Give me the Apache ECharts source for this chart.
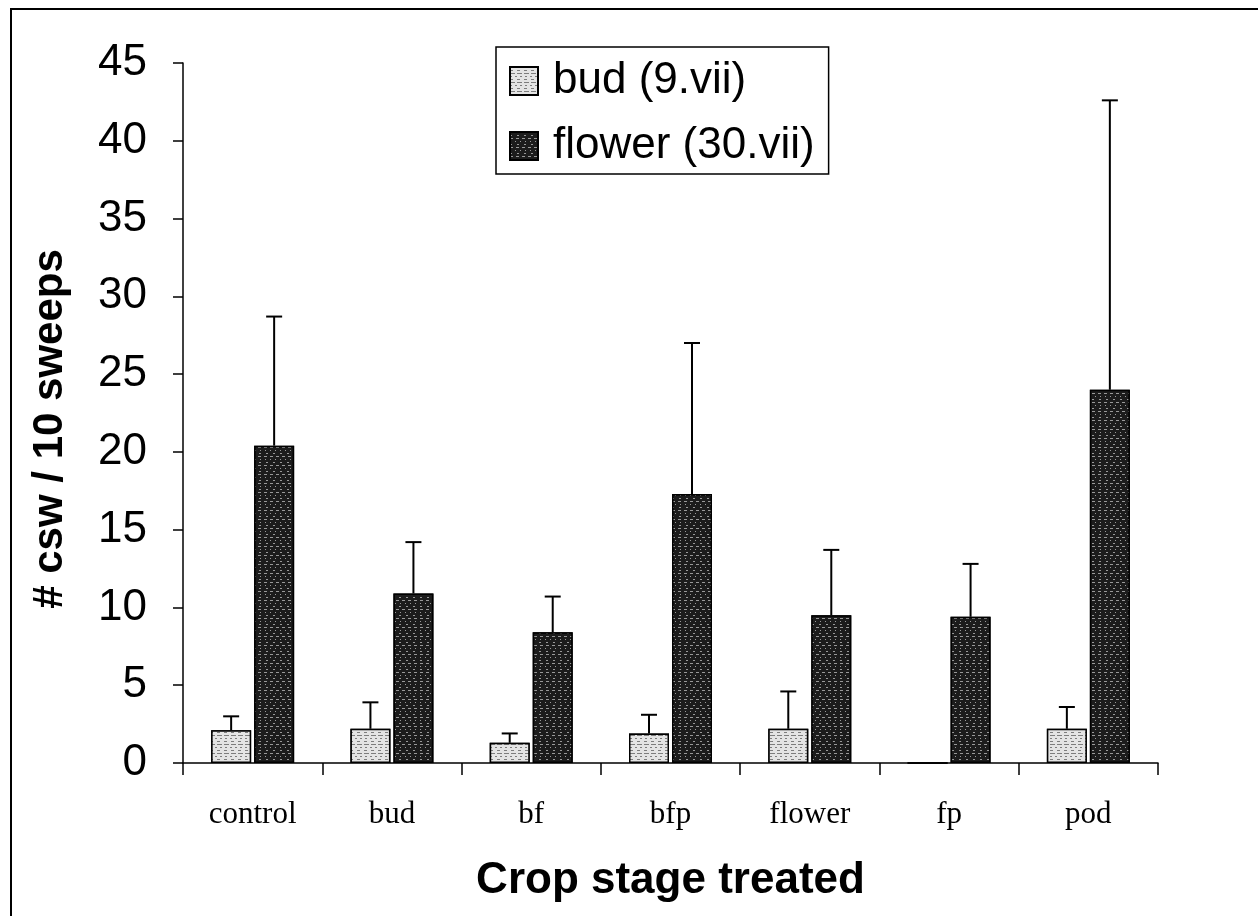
<!DOCTYPE html>
<html>
<head>
<meta charset="utf-8">
<script src="https://cdn.jsdelivr.net/npm/echarts@6/dist/echarts.min.js"></script>
<style>
html,body{margin:0;padding:0;background:#fff;}
#chart{width:1258px;height:916px;}
</style>
</head>
<body>
<div id="chart"></div>
<script>
const categories = ['control', 'bud', 'bf', 'bfp', 'flower', 'fp', 'pod'];
const budValues = [2.1, 2.2, 1.3, 1.9, 2.2, 0, 2.2];
const budErrors = [0.9, 1.7, 0.6, 1.2, 2.4, 0, 1.4];
const flowerValues = [20.4, 10.9, 8.4, 17.3, 9.5, 9.4, 24.0];
const flowerErrors = [8.3, 3.3, 2.3, 9.7, 4.2, 3.4, 18.6];
const seriesNames = ['bud (9.vii)', 'flower (30.vii)'];
const yTicks = [0, 5, 10, 15, 20, 25, 30, 35, 40, 45];

const BAR_W = 40;
const BAR_GAP_PX = 3;

function errorSeries(values, errors, side) {
  const data = values.map((v, i) => [i, v, v + errors[i], errors[i]]);
  return {
    type: 'custom',
    silent: true,
    z: 1,
    data: data,
    encode: { x: 0, y: [1, 2] },
    renderItem: function (params, api) {
      const err = api.value(3);
      if (!err) return null;
      const base = api.coord([api.value(0), api.value(1)]);
      const top = api.coord([api.value(0), api.value(2)]);
      const x = base[0] + side * (BAR_W / 2 + BAR_GAP_PX / 2);
      const cap = 8;
      const st = { stroke: '#000', lineWidth: 2 };
      return {
        type: 'group',
        children: [
          { type: 'line', shape: { x1: x, y1: base[1], x2: x, y2: top[1] }, style: st },
          { type: 'line', shape: { x1: x - cap, y1: top[1], x2: x + cap, y2: top[1] }, style: st }
        ]
      };
    }
  };
}

const chart = echarts.init(document.getElementById('chart'), null, { renderer: 'canvas' });
chart.setOption({
  backgroundColor: '#fff',
  animation: false,
  graphic: [{
    type: 'rect',
    shape: { x: 11, y: 9, width: 1270, height: 930 },
    style: { fill: 'none', stroke: '#000', lineWidth: 2 },
    silent: true
  }],
  legend: {
    orient: 'vertical',
    left: 496,
    top: 47,
    padding: [9, 14, 3, 13],
    itemGap: 15,
    itemWidth: 28,
    itemHeight: 28,
    icon: 'rect',
    borderColor: '#000',
    borderWidth: 1.5,
    backgroundColor: '#fff',
    data: seriesNames,
    textStyle: {
      fontFamily: 'Liberation Sans, Arial, sans-serif',
      fontSize: 44,
      lineHeight: 50,
      color: '#000',
      padding: [0, 0, 0, 10]
    }
  },
  grid: { left: 183, right: 100, top: 63, bottom: 153, containLabel: false },
  xAxis: {
    type: 'category',
    data: categories,
    name: 'Crop stage treated',
    nameLocation: 'middle',
    nameGap: 96,
    nameTextStyle: {
      fontFamily: 'Liberation Sans, Arial, sans-serif',
      fontSize: 44,
      fontWeight: 'bold',
      color: '#000'
    },
    axisLine: { lineStyle: { color: '#000', width: 1.5 } },
    axisTick: { show: true, length: 12, lineStyle: { color: '#000', width: 1.5 } },
    axisLabel: {
      margin: 36,
      fontFamily: 'Liberation Serif, Times New Roman, serif',
      fontSize: 31,
      color: '#000'
    }
  },
  yAxis: {
    type: 'value',
    min: 0,
    max: 45,
    interval: 5,
    name: '# csw / 10 sweeps',
    nameLocation: 'middle',
    nameGap: 112,
    nameTextStyle: {
      fontFamily: 'Liberation Sans, Arial, sans-serif',
      fontSize: 42,
      fontWeight: 'bold',
      color: '#000',
      padding: [0, 32, 0, 0]
    },
    splitLine: { show: false },
    axisLine: { show: true, lineStyle: { color: '#000', width: 1.5 } },
    axisTick: { show: true, length: 10, lineStyle: { color: '#000', width: 1.5 } },
    axisLabel: {
      margin: 36,
      fontFamily: 'Liberation Sans, Arial, sans-serif',
      fontSize: 44,
      color: '#000',
      formatter: function (v) { return yTicks.indexOf(v) >= 0 ? String(v) : ''; }
    }
  },
  series: [
    {
      name: seriesNames[0],
      type: 'bar',
      data: budValues,
      barWidth: BAR_W,
      barGap: (BAR_GAP_PX / BAR_W * 100) + '%',
      itemStyle: {
        color: '#dcdcdc',
        borderColor: '#000',
        borderWidth: 1.5,
        decal: {
          symbol: 'rect',
          color: 'rgba(0,0,0,0.45)',
          backgroundColor: '#e4e4e4',
          dashArrayX: [[5, 2], [2, 3], [3, 4]],
          dashArrayY: [1, 2],
          symbolSize: 1,
          rotation: 0
        }
      },
      z: 2
    },
    {
      name: seriesNames[1],
      type: 'bar',
      data: flowerValues,
      barWidth: BAR_W,
      itemStyle: {
        color: '#1c1c1c',
        borderColor: '#000',
        borderWidth: 1.5,
        decal: {
          symbol: 'rect',
          color: 'rgba(255,255,255,0.55)',
          backgroundColor: '#1c1c1c',
          dashArrayX: [[3, 3], [1, 4], [2, 5]],
          dashArrayY: [1, 2],
          symbolSize: 1,
          rotation: 0
        }
      },
      z: 2
    },
    errorSeries(budValues, budErrors, -1),
    errorSeries(flowerValues, flowerErrors, 1)
  ]
});
</script>
</body>
</html>
